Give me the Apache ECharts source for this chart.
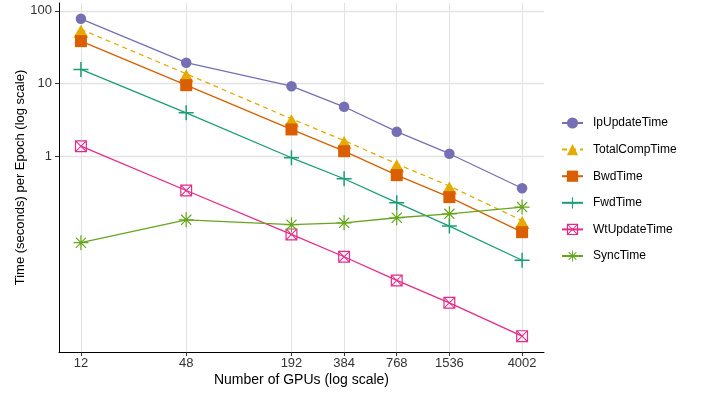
<!DOCTYPE html>
<html>
<head>
<meta charset="utf-8">
<script src="https://cdn.jsdelivr.net/npm/echarts@6.0.0/dist/echarts.min.js"></script>
<style>
  html, body { margin: 0; padding: 0; background: #ffffff; }
  #chart { width: 701px; height: 394px; }
</style>
</head>
<body>
<div id="chart"></div>
<script>
// GPU counts on the x axis (also used as tick positions)
const gpus = [12, 48, 192, 384, 768, 1536, 4002];
const yTicks = [1, 10, 100];

// Time per epoch (seconds) for each component
const ipUpdateTime  = [77.6, 19.3, 9.18, 4.78, 2.17, 1.08, 0.362];
const totalCompTime = [55.6, 13.6, 3.26, 1.64, 0.784, 0.388, 0.130];
const bwdTime       = [38.2, 9.48, 2.33, 1.17, 0.548, 0.273, 0.090];
const fwdTime       = [15.6, 3.95, 0.95, 0.489, 0.229, 0.109, 0.037];
const wtUpdateTime  = [1.37, 0.337, 0.0838, 0.0413, 0.0195, 0.0096, 0.00334];
const syncTime      = [0.0644, 0.133, 0.114, 0.121, 0.142, 0.161, 0.199];

const seriesNames = ['IpUpdateTime', 'TotalCompTime', 'BwdTime', 'FwdTime', 'WtUpdateTime', 'SyncTime'];
const seriesValues = [ipUpdateTime, totalCompTime, bwdTime, fwdTime, wtUpdateTime, syncTime];

// Marker shapes
const plusPath = 'path://M0,9H20V11H0Z M9,0H11V20H9Z';
const boxXPath = 'path://M0,0H20V20H0Z M2,2V18H18V2Z ' +
  'M2,2L3.2,2L18,16.8L18,18L16.8,18L2,3.2Z ' +
  'M18,2L18,3.2L3.2,18L2,18L2,16.8L16.8,2Z';
const starPath = 'path://M0,9.2H20V10.8H0Z M9.2,0H10.8V20H9.2Z ' +
  'M3,3L4.13,3L17,15.87L17,17L15.87,17L3,4.13Z ' +
  'M17,3L17,4.13L4.13,17L3,17L3,15.87L15.87,3Z';

const styles = [
  { color: '#7570B3', symbol: 'circle',   size: 10.5, dash: 'solid' },
  { color: '#E6AB02', symbol: 'triangle', size: [15, 13], dash: [5, 4], offset: [0, 2] },
  { color: '#D95F02', symbol: 'rect',     size: 12, dash: 'solid' },
  { color: '#1B9E77', symbol: plusPath,   size: 15, dash: 'solid' },
  { color: '#E7298A', symbol: boxXPath,   size: 12, dash: 'solid' },
  { color: '#66A61E', symbol: starPath,   size: 15, dash: 'solid' }
];

const series = seriesNames.map((name, i) => ({
  name: name,
  type: 'line',
  data: gpus.map((g, j) => [g, seriesValues[i][j]]),
  symbol: styles[i].symbol,
  symbolSize: styles[i].size,
  symbolOffset: styles[i].offset || [0, 0],
  showAllSymbol: true,
  lineStyle: { color: styles[i].color, width: 1.3, type: styles[i].dash },
  itemStyle: { color: styles[i].color, borderWidth: 0 },
  emphasis: { disabled: true },
  z: 2 + i
}));

const chart = echarts.init(document.getElementById('chart'), null, { renderer: 'canvas' });
chart.setOption({
  animation: false,
  backgroundColor: '#ffffff',
  textStyle: { fontFamily: 'Liberation Sans, Arial, sans-serif' },
  grid: { left: 59, right: 157, top: 3, bottom: 42 },
  legend: {
    orient: 'vertical',
    left: 556,
    top: 112,
    itemWidth: 21,
    itemHeight: 14,
    itemGap: 14.6,
    textStyle: { fontSize: 12, color: '#000000', padding: [0, 0, 0, 5] },
    data: seriesNames
  },
  xAxis: {
    type: 'log',
    min: 8.99,
    max: 5340,
    name: 'Number of GPUs (log scale)',
    nameLocation: 'middle',
    nameGap: 21.5,
    nameMoveOverlap: false,
    nameTextStyle: { fontSize: 14, color: '#000000' },
    axisLine: { show: true, lineStyle: { color: '#000000', width: 1 } },
    axisTick: { show: true, length: 4, customValues: gpus, lineStyle: { color: '#333333' } },
    axisLabel: {
      customValues: gpus, fontSize: 13, color: '#333333', margin: 5,
      formatter: v => String(Math.round(v))
    },
    splitLine: { show: true, lineStyle: { color: '#e3e3e3', width: 1 } },
    minorSplitLine: { show: false }
  },
  yAxis: {
    type: 'log',
    min: 0.00202,
    max: 128,
    name: 'Time (seconds) per Epoch (log scale)',
    nameLocation: 'middle',
    nameGap: 32,
    nameMoveOverlap: false,
    nameTextStyle: { fontSize: 13, color: '#000000' },
    axisLine: { show: true, lineStyle: { color: '#000000', width: 1 } },
    axisTick: { show: true, length: 4, customValues: yTicks, lineStyle: { color: '#333333' } },
    axisLabel: {
      customValues: yTicks, fontSize: 13, color: '#333333', margin: 7,
      formatter: v => String(Math.round(v))
    },
    splitLine: { show: true, lineStyle: { color: '#e3e3e3', width: 1.3 } }
  },
  series: series
});
</script>
</body>
</html>
